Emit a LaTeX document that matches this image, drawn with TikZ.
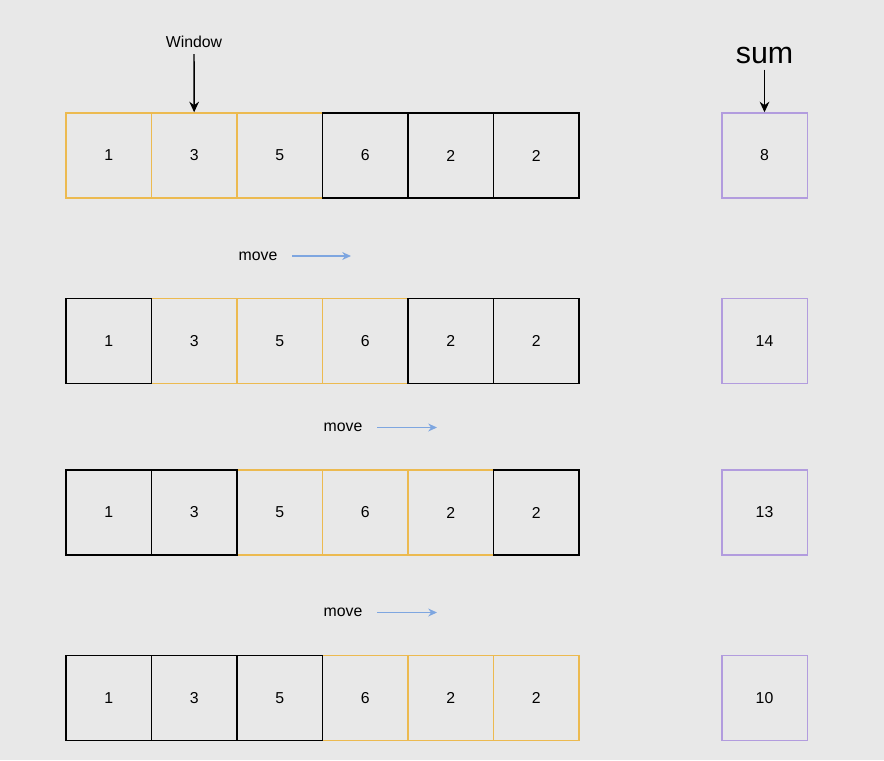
\documentclass[tikz,border=0pt]{standalone}
\usepackage{fontspec}
\setmainfont{Liberation Sans}
\usepackage{tikz}
\usetikzlibrary{arrows,arrows.meta,shapes,positioning}
\usepackage{xcolor}
\definecolor{swbg}{RGB}{232,232,232}
\definecolor{swyellow}{RGB}{236,186,80}
\definecolor{swpurple}{RGB}{178,156,222}
\definecolor{swblue}{RGB}{126,166,224}
\tikzstyle{arrow} = [line width=0.8pt,-{Stealth[length=6pt,width=5.5pt]},color=black]
\tikzstyle{movearrow} = [line width=0.7pt,-{Stealth[length=5pt,width=4.5pt]},color=swblue]
\tikzstyle{cell} = [rectangle, minimum width=1.71cm, minimum height=1.7cm, text centered, draw=black, line width=0.85pt, font=\small]
\tikzstyle{wincell} = [cell, draw=swyellow]
\tikzstyle{sumcell} = [cell, draw=swpurple]
\tikzstyle{label} = [font=\small]

\begin{document}
\begin{tikzpicture}[x=0.02cm, y=-0.02cm]
\fill[swbg] (0,0) rectangle (884,760);
\useasboundingbox (0,0) rectangle (884,760);

% Row 1: window on 1 3 5
\node[wincell] (r1c1) at (108.75,155.5) {1};
\node[wincell] (r1c2) at (194.25,155.5) {3};
\node[wincell] (r1c3) at (279.75,155.5) {5};
\node[cell] (r1c4) at (365.25,155.5) {6};
\node[cell] (r1c5) at (450.75,155.5) {2};
\node[cell] (r1c6) at (536.25,155.5) {2};
\node[sumcell] (sum1) at (764.5,155.5) {8};

% Row 2: window on 3 5 6
\node[wincell] (r2c2) at (194.25,341) {3};
\node[wincell] (r2c3) at (279.75,341) {5};
\node[wincell] (r2c4) at (365.25,341) {6};
\node[cell] (r2c1) at (108.75,341) {1};
\node[cell] (r2c5) at (450.75,341) {2};
\node[cell] (r2c6) at (536.25,341) {2};
\node[sumcell] (sum2) at (764.5,341) {14};

% Row 3: window on 5 6 2
\node[wincell] (r3c3) at (279.75,512.5) {5};
\node[wincell] (r3c4) at (365.25,512.5) {6};
\node[wincell] (r3c5) at (450.75,512.5) {2};
\node[cell] (r3c1) at (108.75,512.5) {1};
\node[cell] (r3c2) at (194.25,512.5) {3};
\node[cell] (r3c6) at (536.25,512.5) {2};
\node[sumcell] (sum3) at (764.5,512.5) {13};

% Row 4: window on 6 2 2
\node[wincell] (r4c4) at (365.25,698) {6};
\node[wincell] (r4c5) at (450.75,698) {2};
\node[wincell] (r4c6) at (536.25,698) {2};
\node[cell] (r4c1) at (108.75,698) {1};
\node[cell] (r4c2) at (194.25,698) {3};
\node[cell] (r4c3) at (279.75,698) {5};
\node[sumcell] (sum4) at (764.5,698) {10};

% Pointers
\node[label] (window) at (194,42) {Window};
\draw[arrow] (window) -- (r1c2);
\node[font=\LARGE] (sum) at (764.5,55) {sum};
\draw[arrow] (sum) -- (sum1);

% Moves
\node[label] (move1) at (258,256) {move};
\coordinate (move1end) at (351,256);
\draw[movearrow] ([xshift=5pt]move1.east) -- (move1end);
\node[label] (move2) at (343,427.5) {move};
\coordinate (move2end) at (437,427.5);
\draw[movearrow] ([xshift=5pt]move2.east) -- (move2end);
\node[label] (move3) at (343,612.5) {move};
\coordinate (move3end) at (437,612.5);
\draw[movearrow] ([xshift=5pt]move3.east) -- (move3end);
\end{tikzpicture}
\end{document}
